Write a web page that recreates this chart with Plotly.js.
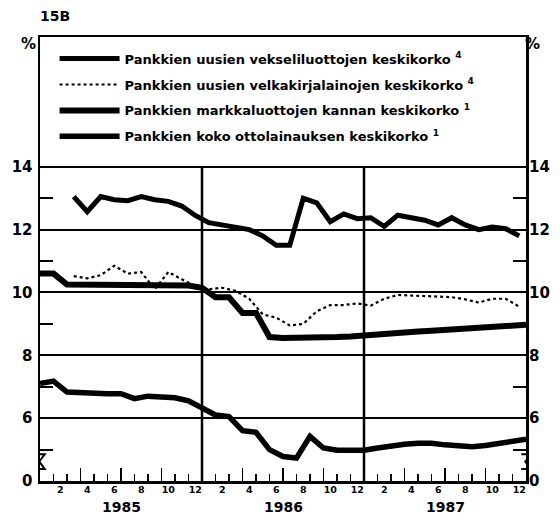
<!DOCTYPE html>
<html>
<head>
<meta charset="utf-8">
<script src="https://cdn.plot.ly/plotly-3.0.1.min.js"></script>
<style>html,body{margin:0;padding:0;background:#fff;}#chart{width:560px;height:526px;}</style>
</head>
<body>
<div id="chart"></div>
<script>
// ---- data (1985-1987, monthly) ----
const years = ['1985', '1986', '1987'];
const monthLabels = ['2', '4', '6', '8', '10', '12'];
const seriesNames = [
  'Pankkien uusien vekseliluottojen keskikorko <sup>4</sup>',
  'Pankkien uusien velkakirjalainojen keskikorko <sup>4</sup>',
  'Pankkien markkaluottojen kannan keskikorko <sup>1</sup>',
  'Pankkien koko ottolainauksen keskikorko <sup>1</sup>'
];
// new-loan rates: monthly values, March 1985 .. December 1987 (plotted mid-month)
const flowStartMonth = 3;
const vekseliluotot = [13.05, 12.57, 13.05, 12.95, 12.92, 13.05, 12.95, 12.9, 12.75, 12.45,
  12.22, 12.15, 12.05, 12.0, 11.8, 11.5, 11.5, 13.0, 12.85, 12.25, 12.5, 12.35,
  12.38, 12.1, 12.46, 12.4, 12.3, 12.15, 12.38, 12.15, 12.0, 12.08, 12.03, 11.8];
const velkakirjalainat = [10.52, 10.45, 10.55, 10.85, 10.6, 10.65, 10.1, 10.65, 10.42, 10.2,
  10.1, 10.15, 10.05, 9.8, 9.3, 9.2, 8.95, 9.0, 9.4, 9.6, 9.6, 9.65,
  9.58, 9.8, 9.92, 9.9, 9.88, 9.87, 9.85, 9.78, 9.68, 9.8, 9.8, 9.55];
// stock rates: end-of-month values, Dec 1984 .. Dec 1987
const markkaluotot = [10.6, 10.6, 10.25, 10.25, 10.25, 10.25, 10.25, 10.25, 10.25, 10.25, 10.22, 10.22,
  10.15, 9.85, 9.85, 9.35, 9.35, 8.58, 8.55, 8.55, 8.55, 8.56, 8.58, 8.6,
  8.64, 8.68, 8.70, 8.73, 8.76, 8.78, 8.81, 8.84, 8.86, 8.89, 8.92, 8.94, 8.97];
const ottolainaus = [7.1, 7.18, 6.83, 6.8, 6.78, 6.78, 6.78, 6.62, 6.7, 6.68, 6.65, 6.55,
  6.3, 6.1, 6.05, 5.6, 5.55, 5.0, 4.78, 4.73, 5.42, 5.05, 4.98, 4.98,
  4.98, 5.05, 5.12, 5.17, 5.2, 5.2, 5.15, 5.1, 5.09, 5.13, 5.2, 5.27, 5.33];
// y axis: broken axis, the "0" label sits where 4 would be
const yTickVals = [4, 6, 8, 10, 12, 14];
const yTickText = ['0', '6', '8', '10', '12', '14'];
const yMinorVals = [5, 7, 9, 11, 13];

// ---- build ----
const nMonths = years.length * 12;
const flowX = vekseliluotot.map((_, i) => (flowStartMonth - 1) + i + 0.5);
const stockX = markkaluotot.map((_, i) => i);
const monthTickVals = [], monthTickText = [];
years.forEach((y, yi) => monthLabels.forEach(m => {
  monthTickVals.push(yi * 12 + Number(m) - 0.5); monthTickText.push(m);
}));
const boundaries = []; for (let k = 1; k < nMonths; k++) if (k % 3 !== 0) boundaries.push(k);
const quarterB = []; for (let k = 3; k < nMonths; k += 3) if (k % 12 !== 0) quarterB.push(k);

const FONT = 'DejaVu Sans, Liberation Sans, Arial, sans-serif';
const bold = (size) => ({family: FONT, size: size, color: '#000', weight: 'bold'});

const traces = [
  {x: flowX, y: vekseliluotot, name: seriesNames[0], mode: 'lines', legendgroup: 'a',
   line: {color: '#000', width: 5}},
  {x: flowX, y: velkakirjalainat, name: seriesNames[1], mode: 'lines', legendgroup: 'b',
   line: {color: '#000', width: 2.2, dash: 'dot'}},
  {x: stockX, y: markkaluotot, name: seriesNames[2], mode: 'lines', legendgroup: 'c',
   line: {color: '#000', width: 6}},
  {x: stockX, y: ottolainaus, name: seriesNames[3], mode: 'lines', legendgroup: 'd',
   line: {color: '#000', width: 5.5}},
  // carriers for the month-label axis and right-hand axis
  {x: [0, nMonths], y: [null, null], xaxis: 'x2', yaxis: 'y', showlegend: false, hoverinfo: 'skip', mode: 'lines'},
  {x: [0, nMonths], y: [null, null], xaxis: 'x', yaxis: 'y2', showlegend: false, hoverinfo: 'skip', mode: 'lines'}
];

const yTop = 18.13;
const shapes = [];
[12, 24].forEach(x => shapes.push({type: 'line', xref: 'x', yref: 'y', x0: x, x1: x, y0: 4, y1: 14,
  line: {color: '#000', width: 2.5}}));
// axis-break marks
[0, nMonths].forEach(x => shapes.push({type: 'path', xref: 'x', yref: 'y', layer: 'above',
  path: `M ${x - 0.35},4.85 L ${x + 0.35},4.85 L ${x - 0.05},4.62 L ${x + 0.35},4.38 L ${x - 0.35},4.38`,
  line: {color: '#000', width: 2}}));

const layout = {
  width: 560, height: 526,
  margin: {l: 40, r: 34, t: 37, b: 45},
  paper_bgcolor: '#fff', plot_bgcolor: '#fff',
  font: bold(14),
  title: {text: '15B', x: 40 / 560, xanchor: 'left', xref: 'container', y: 1 - 16 / 526, yanchor: 'middle', font: bold(14)},
  showlegend: true,
  legend: {x: 0.03, y: 0.985, xanchor: 'left', yanchor: 'top', bgcolor: 'rgba(0,0,0,0)',
    font: bold(13), tracegroupgap: 6, itemwidth: 60},
  xaxis: {range: [0, nMonths], showline: true, linecolor: '#000', linewidth: 2.5, mirror: true,
    showgrid: false, zeroline: false, ticks: 'inside', tickvals: quarterB, ticklen: 13, tickwidth: 1.5,
    tickcolor: '#000', showticklabels: false,
    minor: {tickvals: boundaries, ticks: 'inside', ticklen: 7, tickwidth: 1.5, tickcolor: '#000', showgrid: false}},
  xaxis2: {range: [0, nMonths], overlaying: 'x', anchor: 'y', side: 'bottom', showline: false, showgrid: false,
    zeroline: false, ticks: '', tickvals: monthTickVals, ticktext: monthTickText, tickfont: bold(9.5), tickangle: 0,
    ticklabelstandoff: 1},
  yaxis: {range: [4, yTop], tickvals: yTickVals, ticktext: yTickText, showgrid: true, gridcolor: '#000', gridwidth: 2,
    showline: true, linecolor: '#000', linewidth: 2.5, mirror: true, zeroline: false, ticks: '',
    tickfont: bold(15), ticklabelstandoff: 2,
    minor: {tickvals: yMinorVals, ticks: 'inside', ticklen: 13, tickwidth: 2, tickcolor: '#000', showgrid: false}},
  yaxis2: {range: [4, yTop], overlaying: 'y', side: 'right', anchor: 'x', tickvals: yTickVals, ticktext: yTickText,
    showgrid: false, zeroline: false, showline: false, ticks: '', tickfont: bold(15), ticklabelstandoff: 2,
    minor: {tickvals: yMinorVals, ticks: 'inside', ticklen: 13, tickwidth: 2, tickcolor: '#000', showgrid: false}},
  shapes: shapes,
  annotations: [
    ...years.map((y, i) => ({text: y, xref: 'x', yref: 'paper', x: i * 12 + 6, y: -0.058, showarrow: false,
      font: bold(14), yanchor: 'middle'})),
    {text: '%', xref: 'paper', yref: 'paper', x: -21 / 486, y: (481 - 44) / 444, showarrow: false, font: bold(15), yanchor: 'middle'},
    {text: '%', xref: 'paper', yref: 'paper', x: 1 + 16 / 486, y: (481 - 44) / 444, showarrow: false, font: bold(15), yanchor: 'middle'}
  ]
};

Plotly.newPlot('chart', traces, layout, {staticPlot: true, displayModeBar: false});
</script>
</body>
</html>
